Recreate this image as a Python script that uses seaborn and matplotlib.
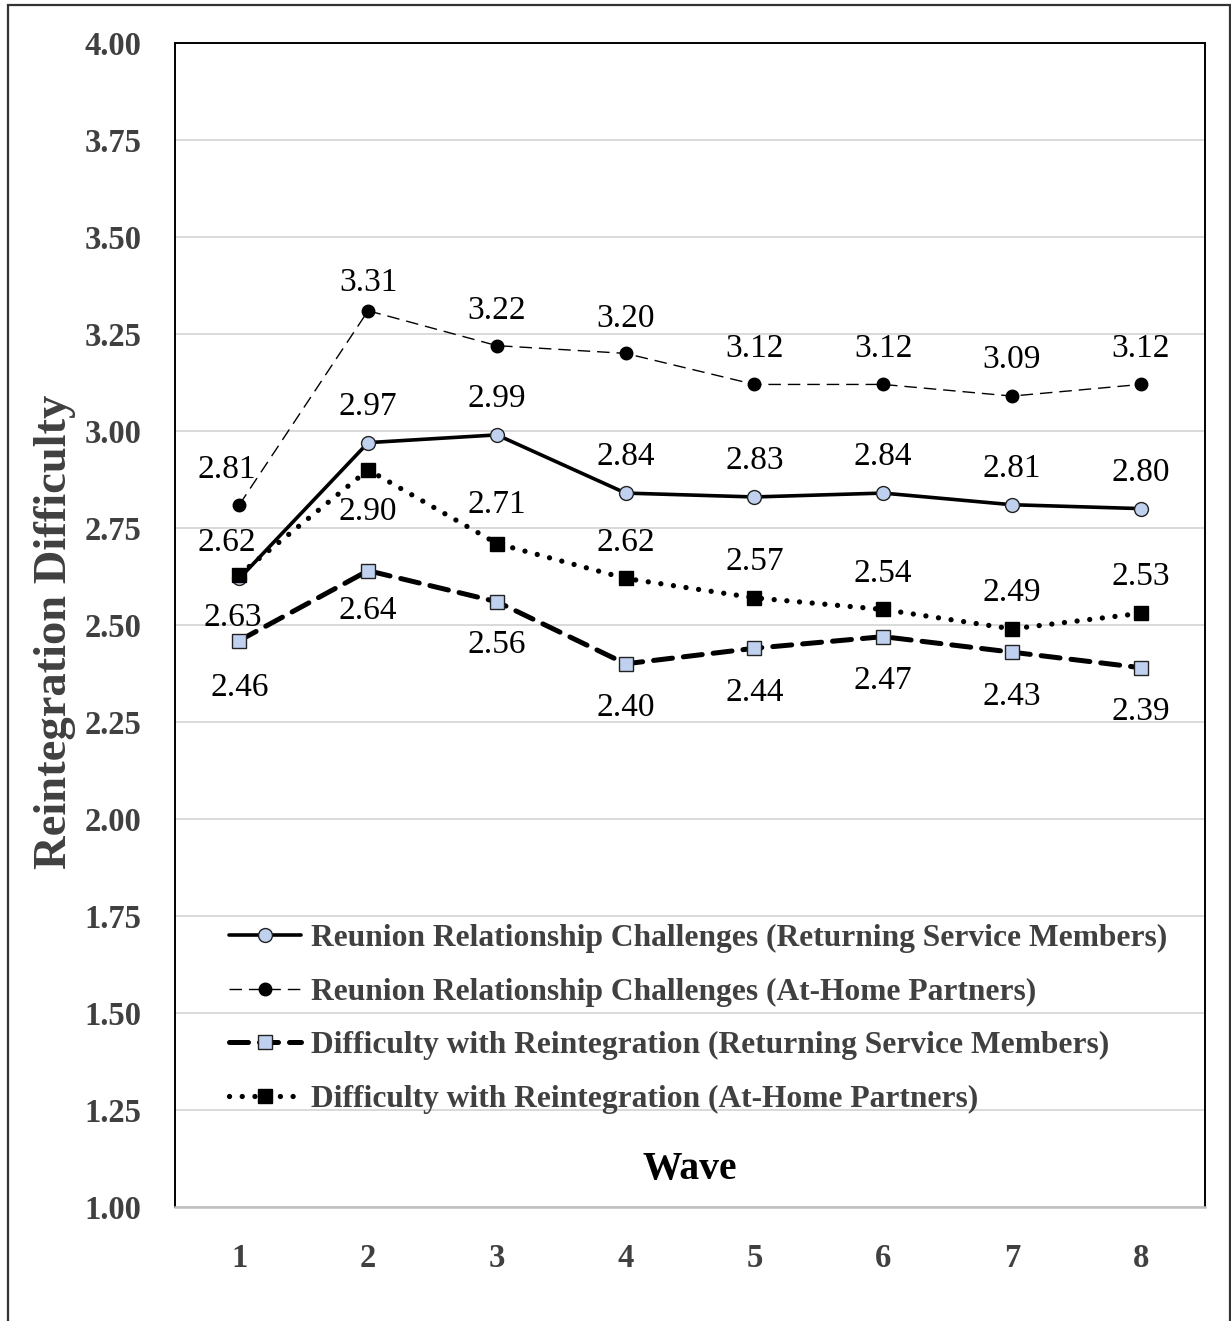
import matplotlib
matplotlib.use("Agg")
import matplotlib.pyplot as plt
from matplotlib.patches import Rectangle
from matplotlib.ticker import FixedLocator
import seaborn as sns
import pandas as pd

# data
waves = [1, 2, 3, 4, 5, 6, 7, 8]
reunion_rsm = [2.62, 2.97, 2.99, 2.84, 2.83, 2.84, 2.81, 2.80]
reunion_home = [2.81, 3.31, 3.22, 3.20, 3.12, 3.12, 3.09, 3.12]
reint_rsm = [2.46, 2.64, 2.56, 2.40, 2.44, 2.47, 2.43, 2.39]
reint_home = [2.63, 2.90, 2.71, 2.62, 2.57, 2.54, 2.49, 2.53]
y_ticks = [1.00, 1.25, 1.50, 1.75, 2.00, 2.25, 2.50, 2.75, 3.00, 3.25, 3.50, 3.75, 4.00]

labels = [
    "Reunion Relationship Challenges (Returning Service Members)",
    "Reunion Relationship Challenges (At-Home Partners)",
    "Difficulty with Reintegration (Returning Service Members)",
    "Difficulty with Reintegration (At-Home Partners)",
]

df = pd.DataFrame({"wave": waves, "s1": reunion_rsm, "s2": reunion_home,
                   "s3": reint_rsm, "s4": reint_home})

sns.set_theme(style="white")
plt.rcParams["font.family"] = ["Liberation Serif", "DejaVu Serif"]

fig = plt.figure(figsize=(12.31, 13.21), dpi=100)
ax = fig.add_axes([175 / 1231, 1 - 1207 / 1321, 1030 / 1231, 1164 / 1321])

light_blue = "#BFD1EE"
dark = "#404040"

styles = {
    "s1": dict(color="black", lw=2.6, linestyle="-", marker="o", markersize=10,
               markerfacecolor=light_blue, markeredgecolor="#222222", markeredgewidth=1.0),
    "s2": dict(color="black", lw=1.0, linestyle=(0, (9, 5)), marker="o", markersize=9,
               markerfacecolor="black", markeredgecolor="black", markeredgewidth=1.0),
    "s3": dict(color="black", lw=3.6, linestyle=(0, (3.8, 2.2)), dash_capstyle="round",
               marker="s", markersize=9.5, markerfacecolor=light_blue,
               markeredgecolor="#222222", markeredgewidth=1.0),
    "s4": dict(color="black", lw=3.8, linestyle=(0, (0.01, 2.4)), dash_capstyle="round",
               marker="s", markersize=9.5, markerfacecolor="black",
               markeredgecolor="black", markeredgewidth=1.0),
}

for key, lab in zip(["s1", "s2", "s3", "s4"], labels):
    sns.lineplot(data=df, x="wave", y=key, ax=ax, label=lab, **styles[key])

# data labels: offsets in points (above / below)
label_offsets = {
    "s1": [(-9, 26), (0, 26), (0, 26), (0, 26), (0, 26), (0, 26), (0, 26), (0, 26)],
    "s2": [(-9, 25), (0, 20), (0, 25), (0, 25), (0, 26), (0, 26), (0, 26), (0, 26)],
    "s3": [(0, -34), (0, -29), (0, -31), (0, -32), (0, -32), (0, -32), (0, -32), (0, -32)],
    "s4": [(-5, -31), (0, -30), (0, 28), (0, 26), (0, 26), (0, 26), (0, 26), (0, 26)],
}
for key in ["s1", "s2", "s3", "s4"]:
    for xv, yv, (dx, dy) in zip(df["wave"], df[key], label_offsets[key]):
        ax.annotate(f"{yv:.2f}", (xv, yv), xytext=(dx, dy), textcoords="offset points",
                    ha="center", va="center", fontsize=24, color="black")

ax.set_xlim(0.5, 8.5)
ax.set_ylim(1.0, 4.0)
ax.set_yticks(y_ticks)
ax.set_yticklabels([f"{t:.2f}" for t in y_ticks])
ax.set_xticks(waves)
ax.set_xticklabels([str(w) for w in waves])
ax.xaxis.set_minor_locator(FixedLocator([8.5]))

ax.grid(axis="y", color="#D9D9D9", lw=1.4)
ax.grid(axis="x", visible=False)
ax.set_axisbelow(True)

ax.tick_params(axis="y", length=0, pad=24, labelsize=23.5, labelcolor=dark)
ax.tick_params(axis="x", which="both", direction="inout", length=12, width=1.2,
               color="#D9D9D9", pad=20, labelsize=23.5, labelcolor=dark)
for t in ax.get_xticklabels() + ax.get_yticklabels():
    t.set_fontweight("bold")

for side in ["left", "top", "right"]:
    ax.spines[side].set_color("black")
    ax.spines[side].set_linewidth(1.4)
ax.spines["bottom"].set_color("#BFBFBF")
ax.spines["bottom"].set_linewidth(1.8)

ax.set_ylabel("Reintegration Difficulty", fontsize=33.5, fontweight="bold", color=dark)
ax.yaxis.set_label_coords(-0.1165, 0.494)
ax.yaxis.label.set_va("center")
ax.set_xlabel("Wave", fontsize=28.5, fontweight="bold", color="black")
ax.xaxis.set_label_coords(0.5, 0.032)
ax.xaxis.label.set_va("center")

leg = ax.legend(loc="upper left", bbox_to_anchor=(0.04, 0.254), frameon=False,
                fontsize=22.7, handlelength=2.3, handletextpad=0.3, labelspacing=0.78,
                borderaxespad=0)
for txt in leg.get_texts():
    txt.set_fontweight("bold")
    txt.set_color(dark)

# outer chart border
fig.add_artist(Rectangle((8 / 1231, -0.02), 1221.5 / 1231, 1.02 - 4.5 / 1321,
                         transform=fig.transFigure, fill=False, lw=1.6,
                         edgecolor="#333333", clip_on=False))

fig.savefig("out.png", dpi=100)
